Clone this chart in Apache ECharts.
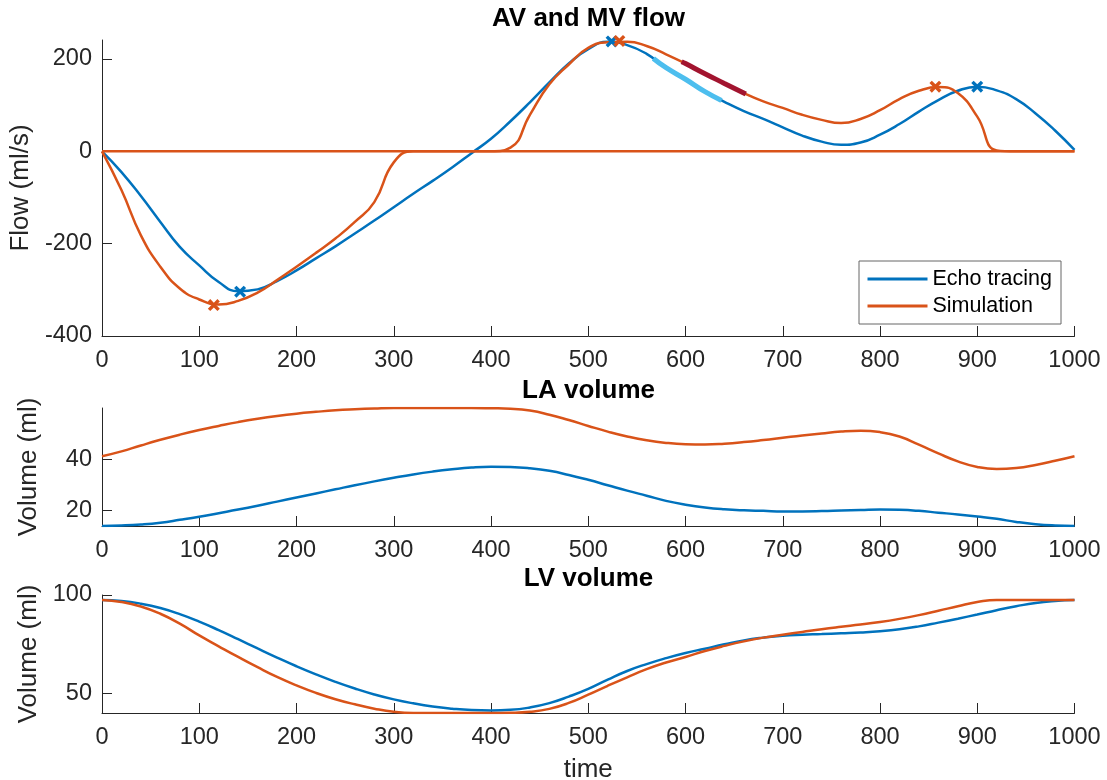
<!DOCTYPE html>
<html>
<head>
<meta charset="utf-8">
<title>AV and MV flow</title>
<script src="https://cdn.jsdelivr.net/npm/echarts@6/dist/echarts.min.js"></script>
<style>
  html, body { margin: 0; padding: 0; background: #fff; }
  #chart { width: 1107px; height: 780px; }
</style>
</head>
<body>
<div id="chart"></div>
<script>
// sample times (ms)
var time = [0, 20, 40, 60, 80, 100, 120, 140, 160, 180, 200, 220, 240, 260, 280, 300, 320, 340, 360, 380,
  400, 420, 440, 460, 480, 500, 520, 540, 560, 580, 600, 620, 640, 660, 680, 700, 720, 740, 760, 780,
  800, 820, 840, 860, 880, 900, 920, 940, 960, 980, 1000]

// AV and MV flow (ml/s)
var echoFlow = [0, -45, -97, -153, -207, -247, -283, -303, -299, -281, -258, -232, -206, -178, -150, -121, -92, -64, -35, -4,
  27, 65, 106, 149, 190, 221, 237, 230, 211, 181, 156, 129, 107, 87, 70, 52, 34, 21, 14, 19,
  36, 59, 86, 111, 131, 140, 132, 113, 82, 45, 3]
var simMV = [0, -84, -182, -250, -297, -321, -332, -324, -306, -279, -250, -220, -189, -153, -110, -24, 0, 0, 0, 0,
  0, 0, 0, 0, 0, 0, 0, 0, 0, 0, 0, 0, 0, 0, 0, 0, 0, 0, 0, 0,
  0, 0, 0, 0, 0, 0, 0, 0, 0, 0, 0]
var simAV = [0, 0, 0, 0, 0, 0, 0, 0, 0, 0, 0, 0, 0, 0, 0, 0, 0, 0, 0, 0,
  0, 8, 79, 145, 188, 224, 236, 237, 228, 210, 190, 168, 147, 126, 108, 94, 79, 68, 61, 70,
  89, 113, 131, 139, 126, 75, 2, 0, 0, 0, 0]

// highlighted stretches of the flow curves
var echoHiT = [567, 580, 600, 620, 637]
var echoHiV = [201, 181, 156, 129, 110]
var simHiT = [596, 600, 620, 640, 662]
var simHiV = [194, 190, 168, 147, 124]

// peaks marked with a cross
var echoPeakT = [142, 524, 900]
var echoPeakV = [-304, 238, 140]
var simPeakT = [115, 532, 857]
var simPeakV = [-333, 239, 140]

// LA volume (ml)
var laEcho = [14.0, 14.2, 14.6, 15.3, 16.4, 17.6, 19.0, 20.4, 21.9, 23.5, 25.1, 26.7, 28.3, 29.9, 31.4, 32.8, 34.1, 35.2, 36.1, 36.8,
  37.1, 37.0, 36.5, 35.5, 33.9, 32.0, 29.9, 27.8, 25.8, 23.8, 22.3, 21.2, 20.5, 20.1, 19.9, 19.7, 19.7, 19.8, 20.0, 20.2,
  20.4, 20.3, 19.9, 19.2, 18.5, 17.7, 16.8, 15.6, 14.7, 14.2, 14.0]
var laSim = [41.2, 43.1, 45.4, 47.6, 49.6, 51.4, 53.0, 54.5, 55.8, 56.9, 57.8, 58.5, 59.1, 59.5, 59.8, 60.0, 60.0, 60.0, 60.0, 60.0,
  59.9, 59.7, 59.0, 57.4, 55.3, 53.0, 50.8, 48.9, 47.4, 46.4, 45.9, 45.8, 46.1, 46.7, 47.5, 48.4, 49.3, 50.1, 50.8, 51.1,
  50.6, 48.9, 45.7, 42.3, 39.2, 37.0, 36.2, 36.6, 37.8, 39.4, 41.2]

// LV volume (ml)
var lvEcho = [97.5, 97.0, 95.6, 93.4, 90.3, 86.5, 82.2, 77.6, 72.9, 68.3, 63.9, 59.8, 56.0, 52.6, 49.6, 47.1, 45.1, 43.5, 42.4, 41.7,
  41.5, 41.8, 43.0, 45.2, 48.5, 52.4, 57.1, 61.5, 65.0, 68.0, 70.6, 72.8, 75.0, 77.0, 78.4, 79.4, 79.9, 80.2, 80.6, 81.0,
  81.6, 82.6, 84.1, 86.0, 88.0, 90.1, 92.3, 94.3, 96.0, 97.0, 97.5]
var lvSim = [97.5, 96.5, 94.2, 90.5, 85.5, 79.5, 74.0, 68.6, 63.4, 58.5, 54.2, 50.4, 47.2, 44.6, 42.4, 40.8, 40.2, 40.2, 40.2, 40.2,
  40.2, 40.3, 40.8, 42.3, 45.3, 49.5, 54.0, 58.3, 62.4, 65.8, 68.6, 71.6, 74.2, 76.5, 78.4, 79.9, 81.3, 82.7, 83.9, 85.0,
  86.3, 87.9, 89.8, 92.0, 94.3, 96.4, 97.5, 97.5, 97.5, 97.5, 97.5]

// axis ticks
var flowTicks = [-400, -200, 0, 200]
var laTicks = [20, 40]
var lvTicks = [50, 100]

var BLUE = '#0072BD'
var ORANGE = '#D95319'
var LIGHTBLUE = '#4DBEEE'
var DARKRED = '#A2142F'
var AXIS = '#262626'
var FONT = "'Liberation Sans', Arial, Helvetica, sans-serif"
var CROSS = 'path://M0,2 L2,0 L5,3 L8,0 L10,2 L7,5 L10,8 L8,10 L5,7 L2,10 L0,8 L3,5 Z'

function pairs(xs, ys) {
  return xs.map(function (x, i) { return [x, ys[i]] })
}

function plain(v) {
  return String(v)
}

function xAxisFor(idx, name) {
  return {
    type: 'value',
    gridIndex: idx,
    min: 0,
    max: 1000,
    interval: 100,
    name: name || '',
    nameLocation: 'middle',
    nameGap: 44,
    nameTextStyle: { fontSize: 26, color: AXIS, fontFamily: FONT },
    axisLine: { show: true, onZero: false, lineStyle: { color: AXIS, width: 1 } },
    axisTick: { show: true, inside: true, length: 10, lineStyle: { color: AXIS, width: 1 } },
    axisLabel: { fontSize: 23.5, color: AXIS, fontFamily: FONT, margin: 13, formatter: plain },
    splitLine: { show: false }
  }
}

function yAxisFor(idx, name, min, max, ticks) {
  return {
    type: 'value',
    gridIndex: idx,
    min: min,
    max: max,
    name: name,
    nameLocation: 'middle',
    nameGap: 60,
    nameTextStyle: { fontSize: 26, color: AXIS, fontFamily: FONT },
    axisLine: { show: true, onZero: false, lineStyle: { color: AXIS, width: 1 } },
    axisTick: { show: true, inside: true, length: 10, customValues: ticks, lineStyle: { color: AXIS, width: 1 } },
    axisLabel: { fontSize: 23.5, color: AXIS, fontFamily: FONT, margin: 10, customValues: ticks, formatter: plain },
    splitLine: { show: false }
  }
}

function lineSeries(name, idx, xs, ys, color, width, z) {
  return {
    name: name,
    type: 'line',
    xAxisIndex: idx,
    yAxisIndex: idx,
    data: pairs(xs, ys),
    smooth: 0.5,
    symbol: 'none',
    z: z,
    lineStyle: { color: color, width: width },
    itemStyle: { color: color }
  }
}

function peakSeries(name, xs, ys, color) {
  return {
    name: name,
    type: 'scatter',
    xAxisIndex: 0,
    yAxisIndex: 0,
    data: pairs(xs, ys),
    symbol: CROSS,
    symbolSize: 12,
    z: 10,
    itemStyle: { color: color, opacity: 1 }
  }
}

function title(text, y) {
  return {
    type: 'text',
    x: 588.5,
    y: y,
    style: {
      text: text,
      fill: '#000',
      font: 'bold 26px ' + FONT,
      textAlign: 'center',
      textVerticalAlign: 'middle',
      align: 'center',
      verticalAlign: 'middle'
    }
  }
}

function gridAt(top, height) {
  return { left: 102, right: 32.5, top: top, height: height, outerBoundsMode: 'none', containLabel: false }
}

var chart = echarts.init(document.getElementById('chart'), null, { renderer: 'canvas' })

chart.setOption({
  animation: false,
  backgroundColor: '#fff',
  textStyle: { fontFamily: FONT },
  graphic: [
    title('AV and MV flow', 19),
    title('LA volume', 391),
    title('LV volume', 579)
  ],
  legend: {
    data: ['Echo tracing', 'Simulation'],
    orient: 'vertical',
    left: 859,
    top: 261,
    itemWidth: 60,
    itemHeight: 2,
    itemGap: 5,
    padding: [7, 9, 7, 7],
    backgroundColor: '#fff',
    borderColor: '#666',
    borderWidth: 1,
    borderRadius: 0,
    lineStyle: { width: 3 },
    textStyle: { fontSize: 21.5, color: '#000', fontFamily: FONT, lineHeight: 22 }
  },
  grid: [
    gridAt(40, 296),
    gridAt(408, 118),
    gridAt(595, 118)
  ],
  xAxis: [
    xAxisFor(0),
    xAxisFor(1),
    xAxisFor(2, 'time')
  ],
  yAxis: [
    yAxisFor(0, 'Flow (ml/s)', -400, 241, flowTicks),
    yAxisFor(1, 'Volume (ml)', 14, 60, laTicks),
    yAxisFor(2, 'Volume (ml)', 40.2, 100, lvTicks)
  ],
  series: [
    lineSeries('Echo tracing', 0, time, echoFlow, BLUE, 2.5, 2),
    lineSeries('Simulation', 0, time, simMV, ORANGE, 2.5, 3),
    lineSeries('Simulation AV', 0, time, simAV, ORANGE, 2.5, 3),
    lineSeries('Echo highlight', 0, echoHiT, echoHiV, LIGHTBLUE, 5, 5),
    lineSeries('Simulation highlight', 0, simHiT, simHiV, DARKRED, 5, 5),
    peakSeries('Echo peaks', echoPeakT, echoPeakV, BLUE),
    peakSeries('Simulation peaks', simPeakT, simPeakV, ORANGE),
    lineSeries('LA echo', 1, time, laEcho, BLUE, 2.5, 2),
    lineSeries('LA simulation', 1, time, laSim, ORANGE, 2.5, 3),
    lineSeries('LV echo', 2, time, lvEcho, BLUE, 2.5, 2),
    lineSeries('LV simulation', 2, time, lvSim, ORANGE, 2.5, 3)
  ]
})
</script>
</body>
</html>
